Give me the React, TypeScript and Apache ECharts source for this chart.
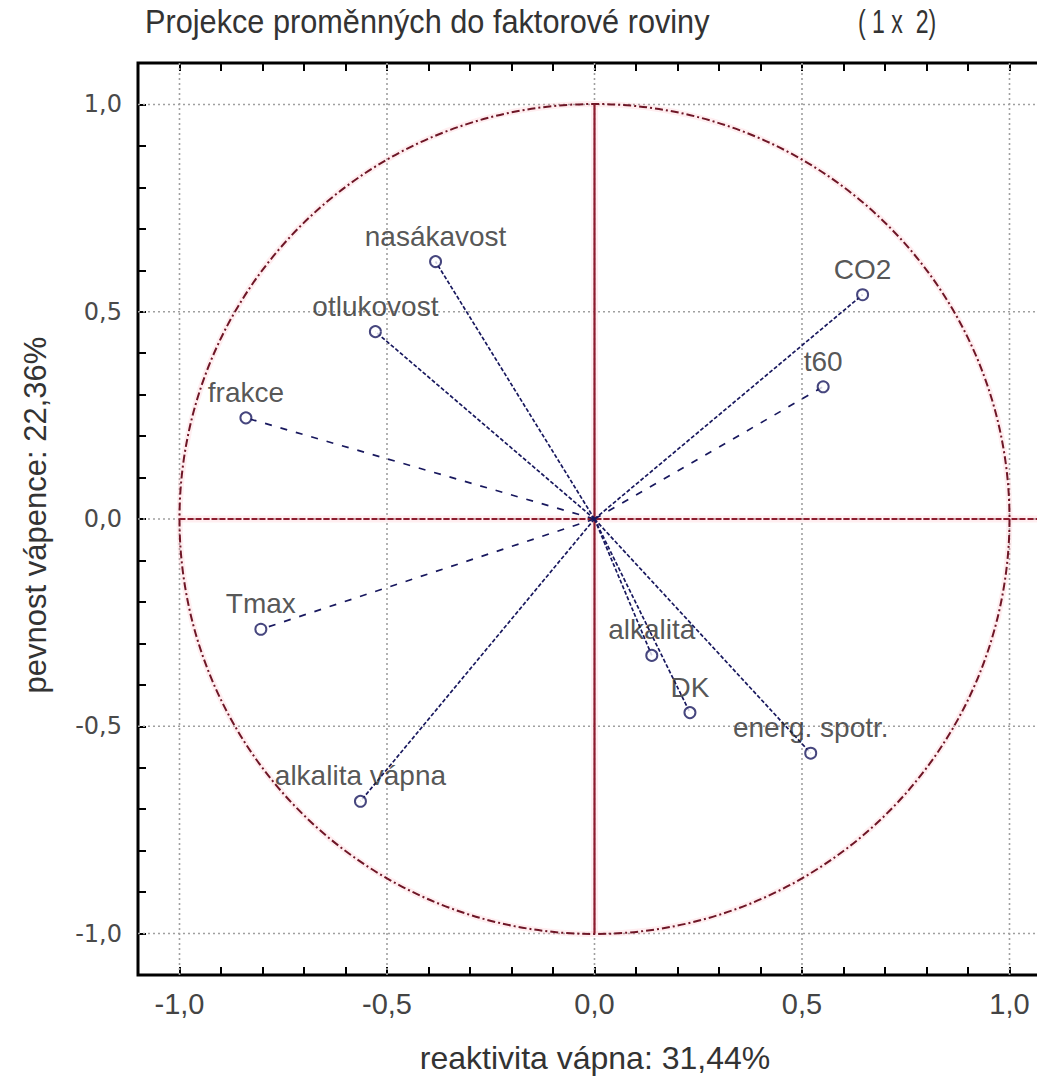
import React, { useEffect, useRef } from 'react';
import * as echarts from 'echarts';

// Factor loadings of the variables on factors 1 and 2
const variables = [
  'nasákavost',
  'otlukovost',
  'frakce',
  'CO2',
  't60',
  'Tmax',
  'alkalita vápna',
  'alkalita',
  'DK',
  'energ. spotr.',
];
const factor1 = [-0.383, -0.528, -0.84, 0.646, 0.551, -0.804, -0.564, 0.138, 0.23, 0.521];
const factor2 = [0.621, 0.452, 0.244, 0.541, 0.319, -0.266, -0.681, -0.329, -0.467, -0.565];

// Variables whose loading vectors are drawn with long dashes
const longDashed = ['frakce', 'Tmax', 't60'];

const labelTicks = [-1, -0.5, 0, 0.5, 1];
const gridValues = [-1, -0.5, 0, 0.5, 1];
const minorTicks = [
  -1, -0.9, -0.8, -0.7, -0.6, -0.5, -0.4, -0.3, -0.2, -0.1, 0,
  0.1, 0.2, 0.3, 0.4, 0.5, 0.6, 0.7, 0.8, 0.9, 1,
];

const titleMain = 'Projekce proměnných do faktorové roviny';
const titleSuffix = '( 1 x  2)';
const xName = 'reaktivita vápna: 31,44%';
const yName = 'pevnost vápence: 22,36%';

const NAVY = '#18185e';
const CIRCLE_RED = '#6e1626';
const AXIS_RED = '#8c1c2e';
const HALO = 'rgba(255,150,160,0.16)';
const SANS = '"Liberation Sans", Arial, sans-serif';
const NARROW = '"Liberation Sans Narrow", "Arial Narrow", ' + SANS;

const fmt = (v: number) => v.toFixed(1).replace('.', ',');

export default function App() {
  const ref = useRef<HTMLDivElement>(null);

  useEffect(() => {
    if (!ref.current) return;
    const chart = echarts.init(ref.current, undefined, { renderer: 'svg' });

    const tickStyle = {
      show: true,
      inside: true,
      length: 8,
      customValues: minorTicks,
      lineStyle: { color: '#000', width: 2 },
    };
    const hiddenLine = { show: false, onZero: false };

    const loadingLines = variables.map((name, i) => ({
      type: 'line',
      name,
      data: [
        [0, 0],
        [factor1[i], factor2[i]],
      ],
      symbol: 'none',
      silent: true,
      z: 4,
      lineStyle: {
        color: NAVY,
        width: 1.7,
        type: longDashed.includes(name) ? [7, 9] : [4, 2],
      },
    }));

    chart.setOption({
      animation: false,
      backgroundColor: '#fff',
      grid: {
        left: 138,
        top: 63,
        width: 913,
        height: 912,
        show: true,
        borderColor: '#000',
        borderWidth: 3,
        backgroundColor: 'transparent',
        outerBoundsMode: 'none',
        containLabel: false,
      },
      xAxis: [
        {
          type: 'value',
          min: -1.1,
          max: 1.1,
          position: 'bottom',
          axisLine: hiddenLine,
          axisTick: tickStyle,
          splitLine: { show: false },
          axisLabel: {
            customValues: labelTicks,
            formatter: fmt,
            margin: 14,
            fontSize: 29,
            color: '#444',
            fontFamily: NARROW,
          },
        },
        {
          type: 'value',
          min: -1.1,
          max: 1.1,
          position: 'top',
          axisLine: hiddenLine,
          axisTick: tickStyle,
          splitLine: { show: false },
          axisLabel: { show: false },
        },
      ],
      yAxis: [
        {
          type: 'value',
          min: -1.1,
          max: 1.1,
          position: 'left',
          axisLine: hiddenLine,
          axisTick: tickStyle,
          splitLine: { show: false },
          axisLabel: {
            customValues: labelTicks,
            formatter: fmt,
            margin: 16,
            fontSize: 24,
            color: '#4a4a4a',
            fontFamily: '"DejaVu Sans", Verdana, sans-serif',
          },
        },
      ],
      graphic: [
        {
          type: 'text',
          x: 145,
          y: 5,
          scaleX: 0.93,
          style: { text: titleMain, font: '33px ' + SANS, fill: '#333' },
        },
        {
          type: 'text',
          x: 858,
          y: 5,
          scaleX: 0.7,
          style: { text: titleSuffix, font: '33px ' + SANS, fill: '#333' },
        },
        {
          type: 'text',
          x: 595,
          y: 1058,
          style: {
            text: xName,
            font: '32px ' + SANS,
            fill: '#333',
            align: 'center',
            verticalAlign: 'middle',
          },
        },
        {
          type: 'text',
          x: 35,
          y: 515,
          rotation: Math.PI / 2,
          style: {
            text: yName,
            font: '31px ' + SANS,
            fill: '#333',
            align: 'center',
            verticalAlign: 'middle',
          },
        },
      ],
      series: [
        {
          // dotted grid, unit circle and the red axes through the origin
          type: 'custom',
          silent: true,
          z: 2,
          data: [[0, 0]],
          renderItem: (params: any, api: any) => {
            const cs = params.coordSys;
            const o = api.coord([0, 0]);
            const unit = api.size([1, 1]);
            const children: any[] = [];
            gridValues.forEach((v) => {
              const px = api.coord([v, 0])[0];
              const py = api.coord([0, v])[1];
              children.push({
                type: 'line',
                shape: { x1: px, y1: cs.y, x2: px, y2: cs.y + cs.height },
                style: { stroke: '#a0a0a0', lineWidth: 1.6, lineDash: [2, 3] },
              });
              children.push({
                type: 'line',
                shape: { x1: cs.x, y1: py, x2: cs.x + cs.width, y2: py },
                style: { stroke: '#a0a0a0', lineWidth: 1.6, lineDash: [2, 3] },
              });
            });
            const top = api.coord([0, 1]);
            const bottom = api.coord([0, -1]);
            const left = api.coord([-1, 0]);
            const right = [cs.x + cs.width, o[1]];
            // soft pink halo under the red marks
            children.push({
              type: 'circle',
              shape: { cx: o[0], cy: o[1], r: unit[0] },
              style: { fill: 'none', stroke: HALO, lineWidth: 6 },
            });
            children.push({
              type: 'line',
              shape: { x1: top[0], y1: top[1], x2: bottom[0], y2: bottom[1] },
              style: { stroke: HALO, lineWidth: 7 },
            });
            children.push({
              type: 'line',
              shape: { x1: left[0], y1: left[1], x2: right[0], y2: right[1] },
              style: { stroke: HALO, lineWidth: 7 },
            });
            children.push({
              type: 'circle',
              shape: { cx: o[0], cy: o[1], r: unit[0] },
              style: { fill: 'none', stroke: CIRCLE_RED, lineWidth: 2, lineDash: [8, 3, 2, 3] },
            });
            children.push({
              type: 'line',
              shape: { x1: top[0], y1: top[1], x2: bottom[0], y2: bottom[1] },
              style: { stroke: AXIS_RED, lineWidth: 2.2 },
            });
            children.push({
              type: 'line',
              shape: { x1: left[0], y1: left[1], x2: right[0], y2: right[1] },
              style: { stroke: AXIS_RED, lineWidth: 2.2, lineDash: [6, 2] },
            });
            return { type: 'group', children };
          },
        },
        ...loadingLines,
        {
          type: 'scatter',
          data: variables.map((name, i) => ({ name, value: [factor1[i], factor2[i]] })),
          symbol: 'emptyCircle',
          symbolSize: 11,
          z: 6,
          itemStyle: { color: NAVY, borderColor: NAVY, borderWidth: 2.2 },
          label: {
            show: true,
            position: 'top',
            distance: 5,
            formatter: '{b}',
            fontSize: 28,
            fontFamily: SANS,
            color: '#2a2a2a',
          },
        },
      ],
    });

    return () => chart.dispose();
  }, []);

  return (
    <div
      ref={ref}
      style={{ position: 'fixed', left: 0, top: 0, width: 1037, height: 1080, background: '#fff' }}
    />
  );
}
